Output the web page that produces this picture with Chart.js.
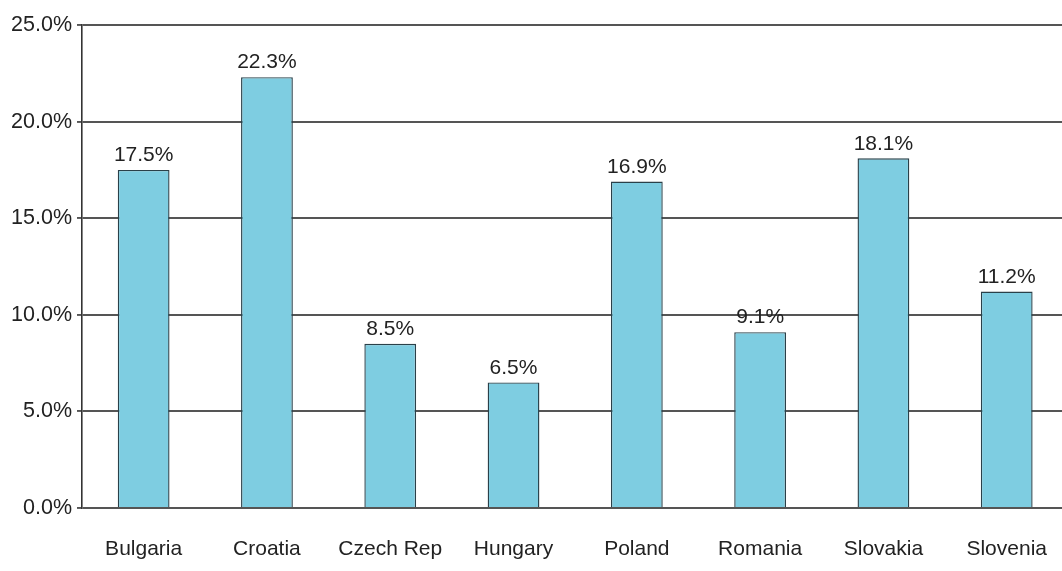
<!DOCTYPE html>
<html>
<head>
<meta charset="utf-8">
<script src="https://cdn.jsdelivr.net/npm/chart.js@4"></script>
<style>
  html, body { margin: 0; padding: 0; background: #fff; overflow: hidden; }
  #wrap { width: 1076px; height: 571px; }
</style>
</head>
<body>
<div id="wrap"><canvas id="chart" width="1076" height="571"></canvas></div>
<script>
const countries = ["Bulgaria", "Croatia", "Czech Rep", "Hungary", "Poland", "Romania", "Slovakia", "Slovenia"];
const shares = [17.5, 22.3, 8.5, 6.5, 16.9, 9.1, 18.1, 11.2];
const yTicks = [0, 5, 10, 15, 20, 25];

const labelFont = "'Liberation Sans', Arial, sans-serif";

// value above each bar, placed from the bar element itself
const barLabels = {
    id: "barLabels",
    afterDatasetsDraw(chart) {
        const ctx = chart.ctx;
        const meta = chart.getDatasetMeta(0);
        ctx.save();
        ctx.font = "21px " + labelFont;
        ctx.fillStyle = "#222";
        ctx.textAlign = "center";
        ctx.textBaseline = "bottom";
        meta.data.forEach((bar, i) => {
            ctx.fillText(shares[i].toFixed(1) + "%", bar.x, bar.y - 4);
        });
        ctx.restore();
    },
};

const ctx = document.getElementById("chart").getContext("2d");
const myChart = new Chart(ctx, {
    type: "bar",
    data: {
        labels: countries,
        datasets: [
            {
                data: shares,
                backgroundColor: "#7ecde1",
                borderColor: "#2a4049",
                borderWidth: 1.4,
                borderSkipped: "bottom",
                barPercentage: 0.84,
                categoryPercentage: 0.5,
            },
        ],
    },
    options: {
        responsive: false,
        animation: false,
        layout: { padding: { top: 25, right: 0, bottom: 0, left: 0 } },
        plugins: {
            legend: { display: false },
            tooltip: { enabled: false },
        },
        scales: {
            x: {
                afterFit: (axis) => {
                    axis.height = 63;
                },
                grid: { display: false, drawTicks: false },
                border: { display: false },
                ticks: {
                    color: "#222",
                    padding: 29,
                    maxRotation: 0,
                    font: { family: labelFont, size: 21 },
                },
            },
            y: {
                min: 0,
                max: 25,
                afterBuildTicks: (axis) => {
                    axis.ticks = yTicks.map((v) => ({ value: v }));
                },
                afterFit: (axis) => {
                    axis.width = 82;
                },
                grid: {
                    color: "#555",
                    lineWidth: 1.9,
                    drawTicks: true,
                    tickLength: 5,
                },
                border: { display: true, color: "#333", width: 1.6 },
                ticks: {
                    color: "#222",
                    padding: 5,
                    font: { family: labelFont, size: 21.5 },
                    callback: (v) => v.toFixed(1) + "%",
                },
            },
        },
    },
    plugins: [barLabels],
});
</script>
</body>
</html>
